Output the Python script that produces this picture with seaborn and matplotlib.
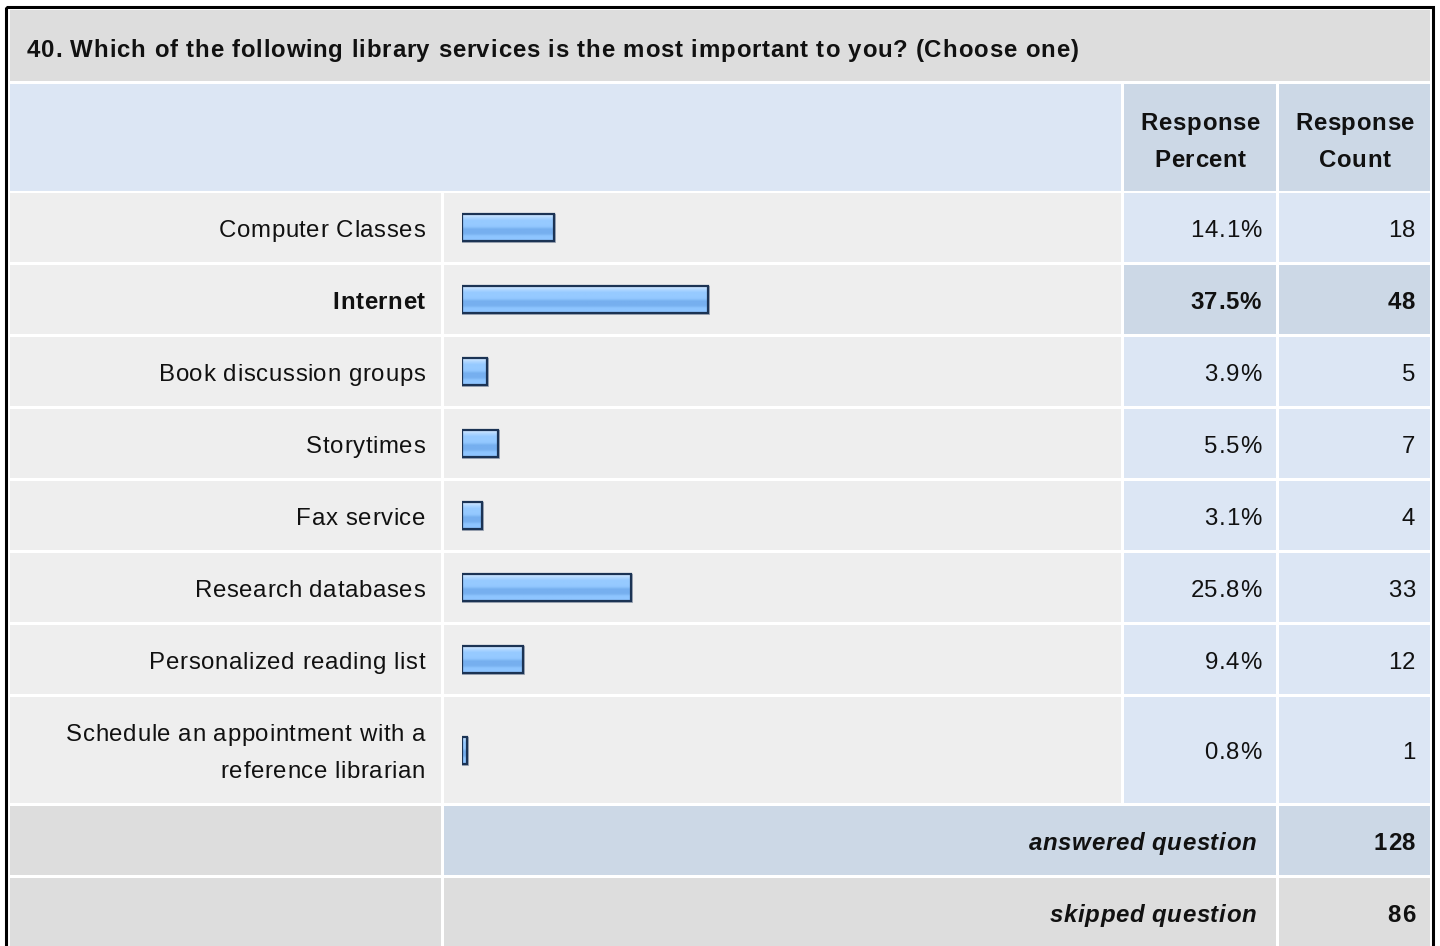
import numpy as np
import pandas as pd
import matplotlib
matplotlib.use("Agg")
import matplotlib.pyplot as plt
from matplotlib.patches import Rectangle
from matplotlib.colors import to_rgb
from matplotlib import font_manager
from matplotlib.font_manager import FontProperties
from matplotlib.ft2font import FT2Font
import seaborn as sns

# ---- survey data -------------------------------------------------------
title = ("40. Which of the following library services is the most "
         "important to you? (Choose one)")
services = [
    "Computer Classes",
    "Internet",
    "Book discussion groups",
    "Storytimes",
    "Fax service",
    "Research databases",
    "Personalized reading list",
    "Schedule an appointment with a\nreference librarian",
]
percents = [14.1, 37.5, 3.9, 5.5, 3.1, 25.8, 9.4, 0.8]
counts = [18, 48, 5, 7, 4, 33, 12, 1]
col_headers = ["Response\nPercent", "Response\nCount"]
answered_label = "answered question"
skipped_label = "skipped question"
answered = 128
skipped = 86

# ---- styling -----------------------------------------------------------
sns.set_theme(style="white")
plt.rcParams["font.family"] = ["Liberation Sans", "DejaVu Sans"]
FAMILY = "Liberation Sans"

W, H = 1440, 946
DPI = 100
FS = 17.3            # points -> 24 px
TRACK = 0.6          # letter spacing, px
TXT = "#111111"
GREY_DARK = "#DDDDDD"
GREY_LIGHT = "#EEEEEE"
BLUE_LIGHT = "#DCE6F4"
BLUE_MID = "#CCD8E6"

fig = plt.figure(figsize=(W / DPI, H / DPI), dpi=DPI)
fig.patch.set_facecolor("white")

# table canvas in pixel units
ax = fig.add_axes([0, 0, 1, 1])
ax.set_xlim(0, W)
ax.set_ylim(H, 0)
ax.axis("off")

_fonts = {}


def _advances(s, size, weight, style):
    key = (weight, style)
    if key not in _fonts:
        prop = FontProperties(family=FAMILY, weight=weight, style=style)
        _fonts[key] = FT2Font(font_manager.findfont(prop))
    font = _fonts[key]
    font.set_size(size, DPI)
    return [font.load_char(ord(ch)).linearHoriAdvance / 65536.0 for ch in s]


def tracked(x, y, s, ha="left", size=FS, weight="normal", style="normal",
            track=TRACK, color=TXT):
    """Draw one line with letter spacing; x/y in pixels, y is the baseline."""
    adv = _advances(s, size, weight, style)
    total = sum(adv) + track * (len(s) - 1)
    if ha == "right":
        x = x - total
    elif ha == "center":
        x = x - total / 2
    for ch, a in zip(s, adv):
        if ch != " ":
            ax.text(x, y, ch, fontsize=size, fontweight=weight,
                    fontstyle=style, family=FAMILY, color=color,
                    ha="left", va="baseline", zorder=5)
        x += a + track


LBL = (10, 441)
BAR = (444, 1121)
PCT = (1124, 1276)
CNT = (1279, 1430)
GAP = 3


def cell(cols, y0, y1, color):
    ax.add_patch(Rectangle((cols[0], y0), cols[1] - cols[0], y1 - y0,
                           facecolor=color, edgecolor="none", zorder=1))


# title row
cell((10, 1430), 10, 81, GREY_DARK)
tracked(27, 57, title, weight="bold", track=0.8)

# column header row
cell((LBL[0], BAR[1]), 84, 191, BLUE_LIGHT)
cell(PCT, 84, 191, BLUE_MID)
cell(CNT, 84, 191, BLUE_MID)
for cols, head in zip([PCT, CNT], col_headers):
    cx = (cols[0] + cols[1]) / 2
    for k, line in enumerate(head.split("\n")):
        tracked(cx, 130 + 37 * k, line, ha="center", weight="bold")

# body rows
heights = [106 if "\n" in s else 69 for s in services]
tops = []
y = 193
for h in heights:
    tops.append(y)
    y += h + GAP
centers = [t + h / 2 for t, h in zip(tops, heights)]
best = int(np.argmax(percents))

for i, (name, pct, cnt) in enumerate(zip(services, percents, counts)):
    y0, y1 = tops[i], tops[i] + heights[i]
    hi = i == best
    cell(LBL, y0, y1, GREY_LIGHT)
    cell(BAR, y0, y1, GREY_LIGHT)
    cell(PCT, y0, y1, BLUE_MID if hi else BLUE_LIGHT)
    cell(CNT, y0, y1, BLUE_MID if hi else BLUE_LIGHT)
    weight = "bold" if hi else "normal"
    lines = name.split("\n")
    base = centers[i] + 9 - 18.5 * (len(lines) - 1)
    for k, line in enumerate(lines):
        tracked(425, base + 37 * k, line, ha="right", weight=weight)
    tracked(1261, centers[i] + 9, f"{pct:.1f}%", ha="right", weight=weight)
    tracked(1415, centers[i] + 9, f"{cnt}", ha="right", weight=weight)

# summary rows
a0 = y
a1 = a0 + 69
s0 = a1 + GAP
s1 = H + 5
cell(LBL, a0, a1, GREY_DARK)
cell((BAR[0], PCT[1]), a0, a1, BLUE_MID)
cell(CNT, a0, a1, BLUE_MID)
cell(LBL, s0, s1, GREY_DARK)
cell((BAR[0], PCT[1]), s0, s1, GREY_DARK)
cell(CNT, s0, s1, GREY_DARK)
for yc, lab, val in [((a0 + a1) / 2, answered_label, answered),
                     ((s0 + s0 + 69) / 2, skipped_label, skipped)]:
    tracked(1256, yc + 9, lab, ha="right", weight="bold", style="italic")
    tracked(1415, yc + 9, f"{val}", ha="right", weight="bold")

# outer frame
ax.add_patch(Rectangle((5.5, 7), 1427.5, 1000, fill=False,
                       edgecolor="black", lw=2.2, zorder=6))

# ---- bars: percent scale on an overlay axes ----------------------------
x0_px, span_px = 461.5, 656.0   # 0% .. 100%
bx = fig.add_axes([x0_px / W, 0, span_px / W, 1])
df = pd.DataFrame({"service": services, "pct": percents, "ypos": centers})
sns.barplot(data=df, x="pct", y="ypos", orient="y", native_scale=True,
            width=27 / 72, color="#8EC5FF", errorbar=None, linewidth=0,
            ax=bx)

stops = ["#C6E2FF", "#C6E2FF", "#B4DAFF", "#AAD4FF", "#9ECEFF", "#96CAFF",
         "#96CAFF", "#96CAFF", "#96CAFF", "#93C8FF", "#8FC5FD", "#80B8F4",
         "#76AFEF", "#76AFEF", "#76AFEF", "#76AFEF", "#7DB5F3", "#88C0FB",
         "#8EC5FF", "#8EC5FF", "#8EC5FF", "#8EC5FF"]
grad = np.array([to_rgb(c) for c in stops]).reshape(len(stops), 1, 3)
px_x = 100.0 / span_px
for p in list(bx.patches):
    bx0, by0 = p.get_x(), p.get_y()
    bw, bh = p.get_width(), p.get_height()
    im = bx.imshow(grad, extent=(bx0, bx0 + bw, by0 + bh, by0),
                   origin="upper", aspect="auto", interpolation="bilinear",
                   zorder=3)
    im.set_clip_path(p)
    bx.add_patch(Rectangle((bx0 + px_x, by0 + 1), bw, bh, fill=False,
                           edgecolor="#A3ABB8", lw=1.4, zorder=2))
    bx.add_patch(Rectangle((bx0, by0), bw, bh, fill=False,
                           edgecolor="#1B3354", lw=1.6, zorder=4))

bx.set_xlim(0, 100)
bx.set_ylim(H, 0)
bx.axis("off")
bx.patch.set_alpha(0)

fig.savefig("out.png", dpi=DPI, facecolor="white")
